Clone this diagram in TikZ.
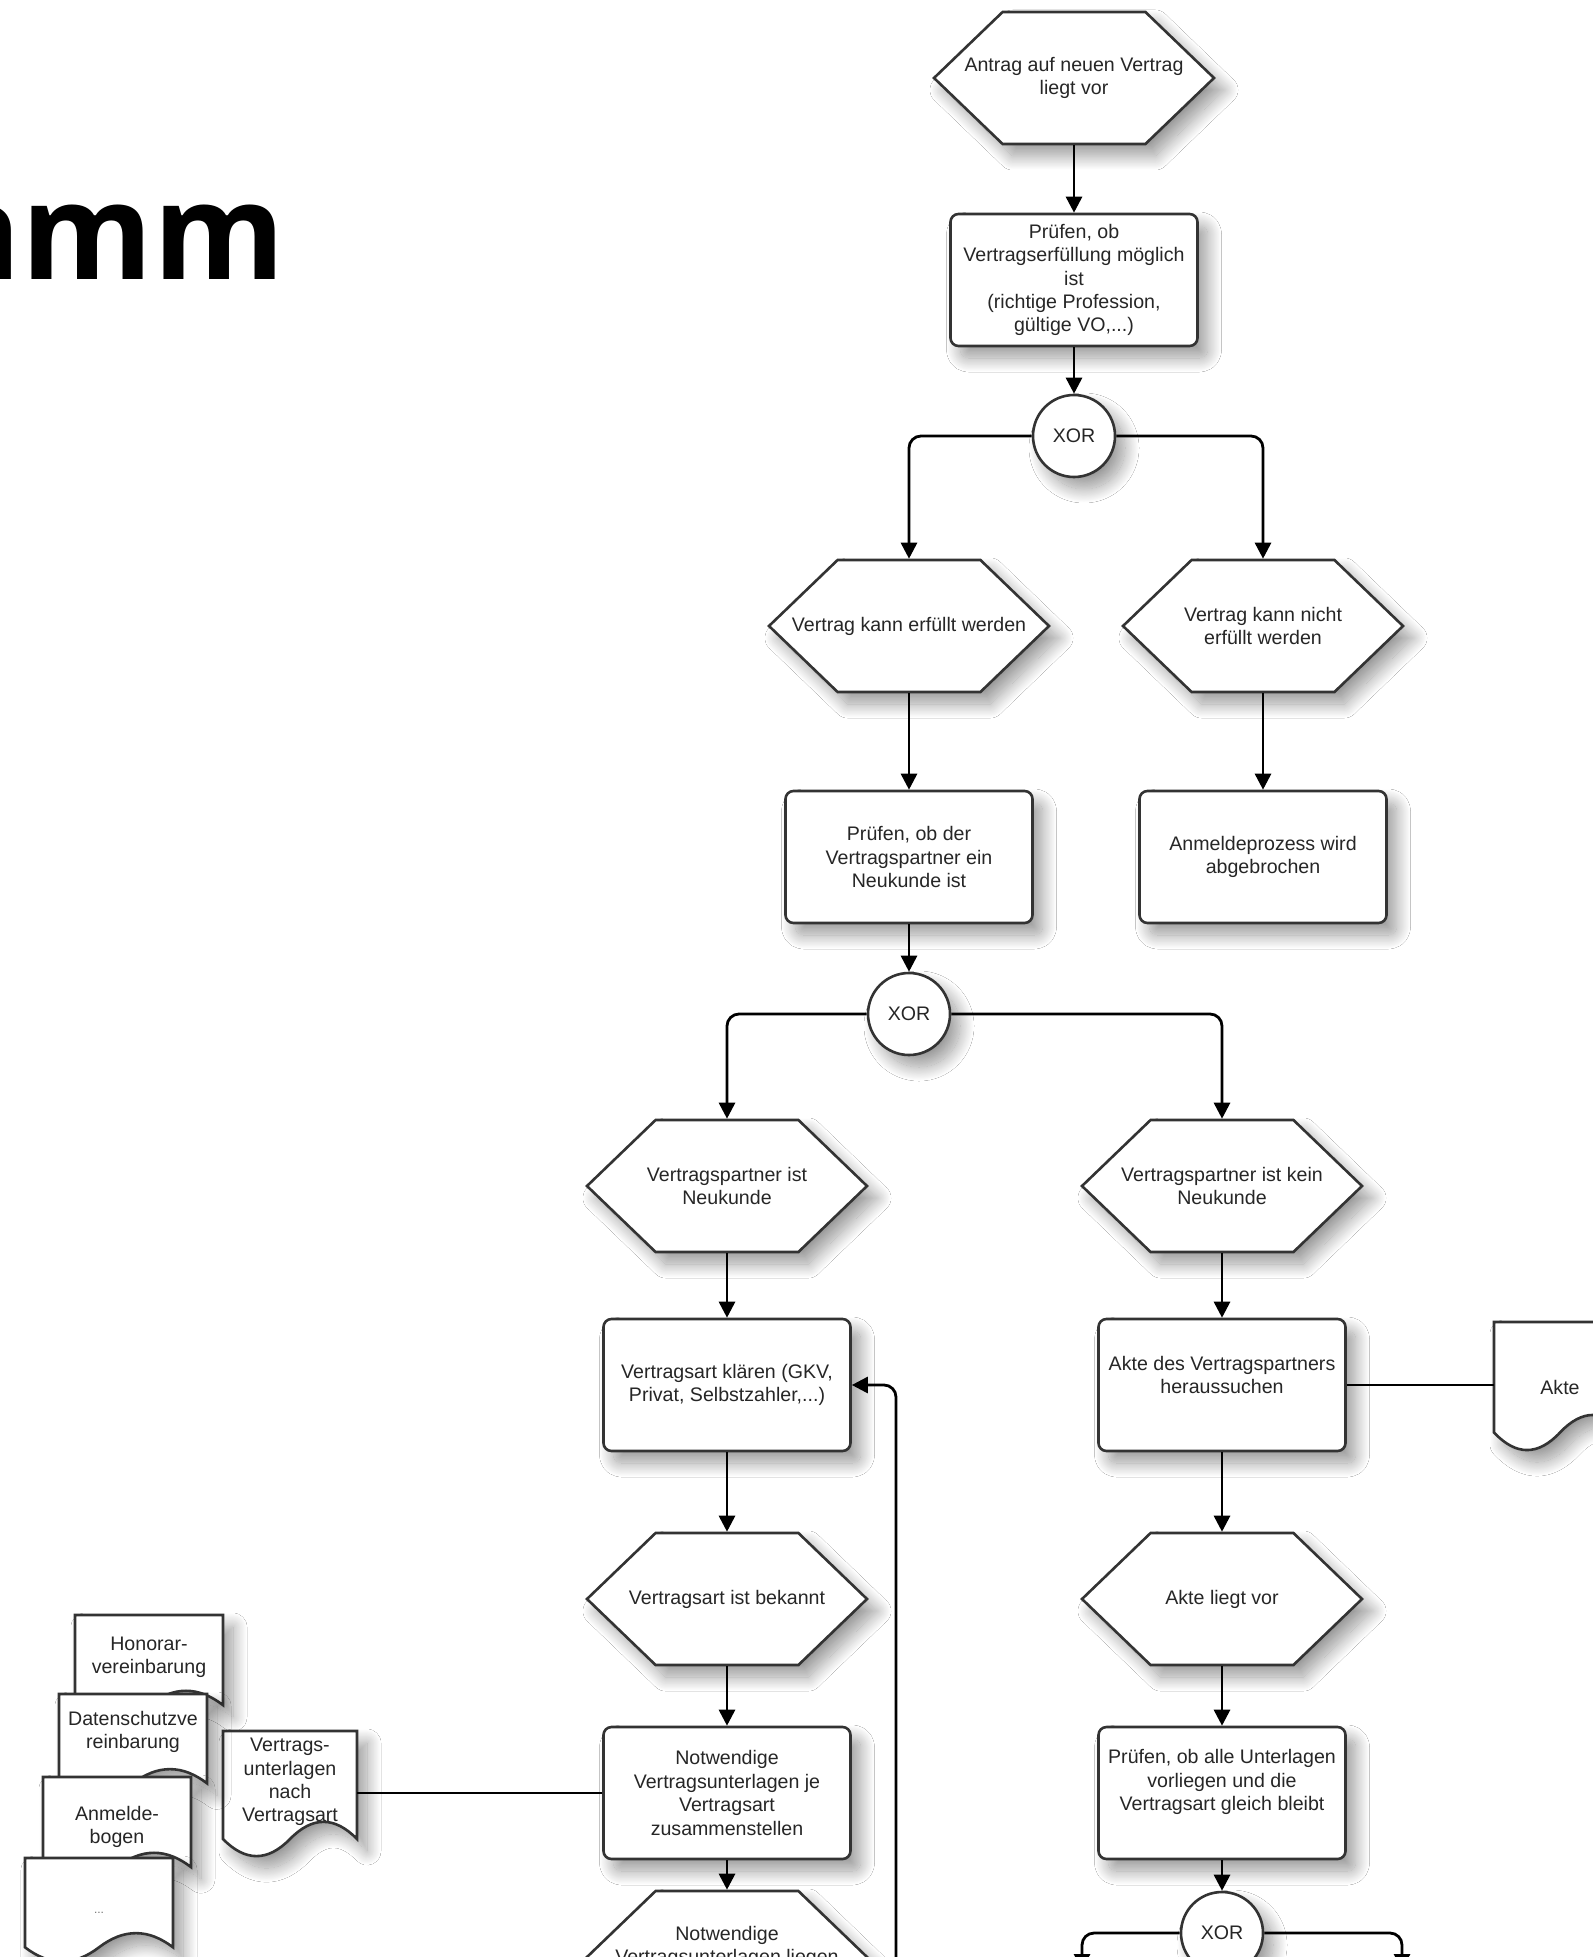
\documentclass[tikz,border=0pt]{standalone}
\usepackage{fontspec}
\setmainfont{Liberation Sans}
\newfontfamily\titlefont{Open Sans}
\usetikzlibrary{arrows.meta,shadows.blur}

% EPK event: a rectangle whose sides end in points
\makeatletter
\pgfdeclareshape{eventhex}{%
  \inheritsavedanchors[from=rectangle]%
  \inheritanchorborder[from=rectangle]%
  \inheritanchor[from=rectangle]{center}%
  \inheritanchor[from=rectangle]{north}%
  \inheritanchor[from=rectangle]{south}%
  \inheritanchor[from=rectangle]{east}%
  \inheritanchor[from=rectangle]{west}%
  \backgroundpath{%
    \southwest \pgf@xa=\pgf@x \pgf@ya=\pgf@y
    \northeast \pgf@xb=\pgf@x \pgf@yb=\pgf@y
    \pgfmathsetlength\pgf@xc{\pgfkeysvalueof{/pgf/outer xsep}}%
    \pgfmathsetlength\pgf@yc{\pgfkeysvalueof{/pgf/outer ysep}}%
    \advance\pgf@xa by\pgf@xc \advance\pgf@xb by-\pgf@xc
    \advance\pgf@ya by\pgf@yc \advance\pgf@yb by-\pgf@yc
    \pgf@xc=\pgf@xb \advance\pgf@xc by-\pgf@xa \pgf@xc=0.245\pgf@xc
    \pgf@yc=\pgf@ya \advance\pgf@yc by\pgf@yb \pgf@yc=0.5\pgf@yc
    \edef\hexl{\the\pgf@xa}\edef\hexr{\the\pgf@xb}%
    \edef\hexb{\the\pgf@ya}\edef\hext{\the\pgf@yb}\edef\hexm{\the\pgf@yc}%
    \advance\pgf@xa by\pgf@xc \edef\hexil{\the\pgf@xa}%
    \advance\pgf@xb by-\pgf@xc \edef\hexir{\the\pgf@xb}%
    \pgfpathmoveto{\pgfpoint{\hexl}{\hexm}}%
    \pgfpathlineto{\pgfpoint{\hexil}{\hext}}%
    \pgfpathlineto{\pgfpoint{\hexir}{\hext}}%
    \pgfpathlineto{\pgfpoint{\hexr}{\hexm}}%
    \pgfpathlineto{\pgfpoint{\hexir}{\hexb}}%
    \pgfpathlineto{\pgfpoint{\hexil}{\hexb}}%
    \pgfpathclose
  }%
}
\makeatother

\tikzset{
  every node/.style={text=black!85,font=\fontsize{9.8}{11.7}\selectfont},
  dropsh/.style={blur shadow={shadow xshift=5pt,shadow yshift=-6pt,shadow blur radius=7pt,
    shadow blur steps=24,shadow opacity=40}},
  evhex/.style={eventhex,draw=black!80,fill=white,line width=1.3pt,
    minimum width=140pt,minimum height=66pt,inner sep=0pt,align=center,dropsh},
  fnbox/.style={rectangle,rounded corners=4pt,draw=black!80,fill=white,line width=1.3pt,
    minimum width=123.5pt,minimum height=66pt,inner sep=0pt,align=center,dropsh},
  xorc/.style={circle,draw=black!80,fill=white,line width=1.3pt,minimum size=41pt,inner sep=0pt,dropsh},
  docsh/.style={draw=black!80,fill=white,line width=1.3pt,dropsh},
  doctxt/.style={align=center,inner sep=0pt},
  flow/.style={draw=black,line width=1.4pt,-{Triangle[length=8pt,width=8pt]}},
  assoc/.style={draw=black,line width=1.4pt},
}

\begin{document}
\begin{tikzpicture}[x=.5pt,y=-.5pt]
\path[use as bounding box] (0,0) rectangle (1593,1957);
\clip (0,0) rectangle (1593,1957);
\path[fill=white] (0,0) rectangle (1593,1957);

% title, cut at the left edge
\node[anchor=base east,inner sep=0pt,text=black,font=\titlefont\bfseries\fontsize{67}{80}\selectfont] (title) at (285,280) {amm};

% first check
\node[evhex] (ev1) at (1074,78) {Antrag auf neuen Vertrag\\liegt vor};
\node[fnbox] (fn1) at (1074,280) {Prüfen, ob\\Vertragserfüllung möglich\\ist\\(richtige Profession,\\gültige VO,...)};
\node[xorc] (xor1) at (1074,436) {XOR};
\node[evhex] (ev2) at (909,626) {Vertrag kann erfüllt werden};
\node[evhex] (ev3) at (1263,626) {Vertrag kann nicht\\erfüllt werden};
\node[fnbox] (fn2) at (909,857) {Prüfen, ob der\\Vertragspartner ein\\Neukunde ist};
\node[fnbox] (fn3) at (1263,857) {Anmeldeprozess wird\\abgebrochen};

% new or known customer
\node[xorc] (xor2) at (909,1014) {XOR};
\node[evhex] (ev4) at (727,1186) {Vertragspartner ist\\Neukunde};
\node[evhex] (ev5) at (1222,1186) {Vertragspartner ist kein\\Neukunde};
\node[fnbox] (fn4) at (727,1385) {Vertragsart klären (GKV,\\Privat, Selbstzahler,...)};
\node[fnbox] (fn5) at (1222,1385) {};
\node[doctxt] (fn5txt) at (1222,1375) {Akte des Vertragspartners\\heraussuchen};
\node[evhex] (ev6) at (727,1599) {Vertragsart ist bekannt};
\node[evhex] (ev8) at (1222,1599) {Akte liegt vor};
\node[fnbox] (fn6) at (727,1793) {Notwendige\\Vertragsunterlagen je\\Vertragsart\\zusammenstellen};
\node[fnbox] (fn7) at (1222,1793) {};
\node[doctxt] (fn7txt) at (1222,1782) {Prüfen, ob alle Unterlagen\\vorliegen und die\\Vertragsart gleich bleibt};
\node[evhex] (ev7) at (727,1957) {};
\node[doctxt] (ev7txt) at (727,1947) {Notwendige\\Vertragsunterlagen liegen};
\node[xorc] (xor3) at (1222,1933) {XOR};

% documents
\path[docsh] (1494,1322) -- (1626,1322) -- (1626,1432.5) .. controls (1604,1409.1) and (1582,1409.1) .. (1560,1432.5)
  .. controls (1538,1455.9) and (1516,1455.9) .. (1494,1432.5) -- cycle;
\node[doctxt,minimum width=66pt] (dakte) at (1560,1387) {Akte};

\path[docsh] (223,1731) -- (357,1731) -- (357,1839) .. controls (334.7,1816.1) and (312.3,1816.1) .. (290,1839)
  .. controls (267.7,1861.8) and (245.3,1861.8) .. (223,1839) -- cycle;
\node[doctxt,minimum width=67pt] (dvua) at (290,1782) {Vertrags-\\unterlagen\\nach\\Vertragsart};

\path[docsh] (75,1615) -- (223,1615) -- (223,1705.1) .. controls (198.3,1686) and (173.7,1686) .. (149,1705.1)
  .. controls (124.3,1724.2) and (99.7,1724.2) .. (75,1705.1) -- cycle;
\node[doctxt] (dhon) at (149,1657) {Honorar-\\vereinbarung};

\path[docsh] (59,1694) -- (207,1694) -- (207,1783.3) .. controls (182.3,1764.4) and (157.7,1764.4) .. (133,1783.3)
  .. controls (108.3,1802.2) and (83.7,1802.2) .. (59,1783.3) -- cycle;
\node[doctxt] (ddat) at (133,1732) {Datenschutzve\\reinbarung};

\path[docsh] (43,1777) -- (191,1777) -- (191,1867.1) .. controls (166.3,1848) and (141.7,1848) .. (117,1867.1)
  .. controls (92.3,1886.2) and (67.7,1886.2) .. (43,1867.1) -- cycle;
\node[doctxt] (danm) at (117,1827) {Anmelde-\\bogen};

\path[docsh] (25,1858) -- (173,1858) -- (173,1947.3) .. controls (148.3,1928.4) and (123.7,1928.4) .. (99,1947.3)
  .. controls (74.3,1966.2) and (49.7,1966.2) .. (25,1947.3) -- cycle;
\node[doctxt,text=black!55,font=\fontsize{6}{7}\selectfont] (detc) at (99,1913) {...};

% connectors
\coordinate (x3l) at (1082,1970);
\coordinate (x3r) at (1402,1970);
\coordinate (loopin) at (896,2000);
\draw[flow] (ev1) -- (fn1);
\draw[flow] (fn1) -- (xor1);
\draw[flow,rounded corners=6pt] (xor1.west) -| (ev2.north);
\draw[flow,rounded corners=6pt] (xor1.east) -| (ev3.north);
\draw[flow] (ev2) -- (fn2);
\draw[flow] (ev3) -- (fn3);
\draw[flow] (fn2) -- (xor2);
\draw[flow,rounded corners=6pt] (xor2.west) -| (ev4.north);
\draw[flow,rounded corners=6pt] (xor2.east) -| (ev5.north);
\draw[flow] (ev4) -- (fn4);
\draw[flow] (ev5) -- (fn5);
\draw[assoc] (fn5.east) -- (fn5.east -| dakte.west);
\draw[flow] (fn4) -- (ev6);
\draw[flow] (fn5) -- (ev8);
\draw[flow] (ev6) -- (fn6);
\draw[assoc] (fn6.west) -- (fn6.west -| dvua.east);
\draw[flow] (fn6) -- (ev7);
\draw[flow] (ev8) -- (fn7);
\draw[flow] (fn7) -- (xor3);
\draw[flow,rounded corners=6pt] (xor3.west) -| (x3l);
\draw[flow,rounded corners=6pt] (xor3.east) -| (x3r);
\draw[flow,rounded corners=6pt] (loopin) |- (fn4.east);
\end{tikzpicture}
\end{document}
